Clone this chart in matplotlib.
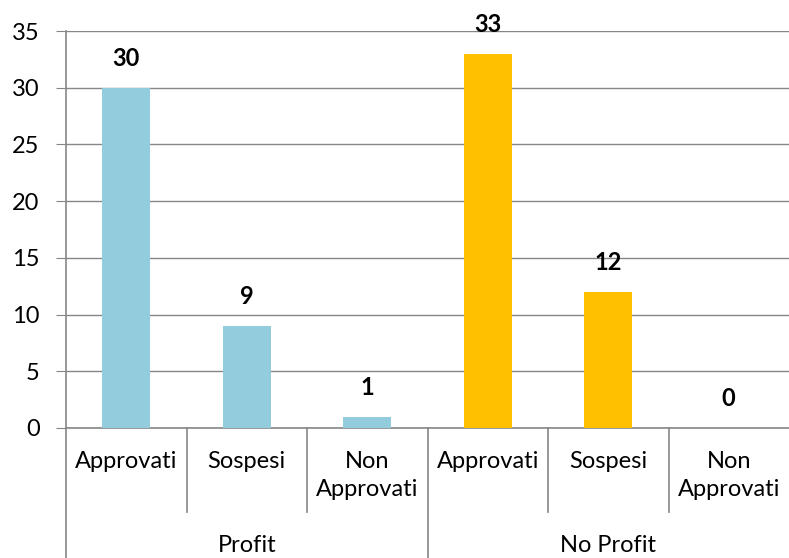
import matplotlib
matplotlib.use("Agg")
import matplotlib.pyplot as plt
import numpy as np

# dati
groups = ["Profit", "No Profit"]
categories = ["Approvati", "Sospesi", "Non\nApprovati"]
profit_values = [30, 9, 1]
noprofit_values = [33, 12, 0]

plt.rcParams["font.family"] = ["Lato", "DejaVu Sans"]

colors = ["#93CDDD", "#FFC000"]
grid_color = "#868686"

fig = plt.figure(figsize=(7.89, 5.58), dpi=100)
ax = fig.add_axes([66 / 789, 130 / 558, 1 - 66 / 789, 397 / 558])

n = len(categories)
all_values = [profit_values, noprofit_values]
for g, vals in enumerate(all_values):
    x = np.arange(n) + g * n + 0.5
    ax.bar(x, vals, width=0.4, color=colors[g], zorder=3)
    for xi, v in zip(x, vals):
        ax.annotate(str(v), (xi, v), xytext=(0, 21), textcoords="offset points",
                    ha="center", va="center", fontsize=17, fontweight="bold")

ax.set_xlim(0, 2 * n)
ax.set_ylim(0, 35)
ax.set_yticks(np.arange(0, 36, 5))
ax.tick_params(axis="y", labelsize=17, length=7, color=grid_color, pad=12)
ax.set_xticks([])
ax.grid(axis="y", color=grid_color, linewidth=1, zorder=0)

for s in ["top", "right"]:
    ax.spines[s].set_visible(False)
ax.spines["left"].set_color(grid_color)
ax.spines["bottom"].set_color(grid_color)
ax.spines["left"].set_linewidth(1.2)
ax.spines["bottom"].set_linewidth(1.2)

# asse categorie a due livelli
tr = ax.get_xaxis_transform()
lvl1 = -84 / 397
lvl2 = -130 / 397
for k in range(1, 2 * n):
    bottom = lvl2 if k % n == 0 else lvl1
    ax.plot([k, k], [0, bottom], transform=tr, color=grid_color, lw=1.2, clip_on=False)
ax.plot([0, 0], [0, lvl2], transform=tr, color=grid_color, lw=1.2, clip_on=False)

for g, name in enumerate(groups):
    for i, cat in enumerate(categories):
        ax.text(g * n + i + 0.5, -23 / 397, cat, transform=tr, ha="center", va="top",
                fontsize=17, linespacing=1.4)
    ax.text(g * n + n / 2, -117 / 397, name, transform=tr, ha="center", va="center",
            fontsize=17)

fig.savefig("out.png", dpi=100)
